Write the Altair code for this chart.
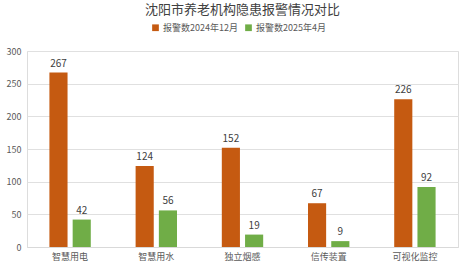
import altair as alt
import pandas as pd

categories = ["智慧用电", "智慧用水", "独立烟感", "信传装置", "可视化监控"]
series_names = ["报警数2024年12月", "报警数2025年4月"]
values_2024 = [267, 124, 152, 67, 226]
values_2025 = [42, 56, 19, 9, 92]
colors = ["#C55A11", "#70AD47"]
y_ticks = [0, 50, 100, 150, 200, 250, 300]

rows = []
for c, a, b in zip(categories, values_2024, values_2025):
    rows.append({"cat": c, "series": series_names[0], "value": a})
    rows.append({"cat": c, "series": series_names[1], "value": b})
df = pd.DataFrame(rows)

FONT = "Noto Sans CJK SC"

x = alt.X("cat:N", sort=categories, title=None,
          scale=alt.Scale(paddingInner=0.52, paddingOuter=0.26),
          axis=alt.Axis(labelAngle=0, labelFontSize=9, labelColor="#595959",
                        labelFont=FONT, ticks=False, domainColor="#D9D9D9",
                        labelPadding=5))
xoff = alt.XOffset("series:N", sort=series_names,
                   scale=alt.Scale(paddingInner=0.22))
y = alt.Y("value:Q", title=None,
          scale=alt.Scale(domain=[0, 300]),
          axis=alt.Axis(values=y_ticks, labelFontSize=9, labelColor="#595959",
                        labelFont=FONT, ticks=False, domain=False,
                        gridColor="#E0E0E0", labelPadding=6))
color = alt.Color("series:N", sort=series_names,
                  scale=alt.Scale(domain=series_names, range=colors),
                  legend=alt.Legend(title=None, orient="none", direction="horizontal",
                                    legendX=124, legendY=-28, symbolType="square",
                                    symbolSize=45, labelFontSize=9, labelFont=FONT,
                                    labelColor="#595959", columnPadding=6,
                                    symbolStrokeWidth=0, labelOffset=3))

base = alt.Chart(df).encode(x=x, xOffset=xoff, y=y)
bars = base.mark_bar().encode(color=color)
labels = base.mark_text(dy=-9, fontSize=10, font=FONT, color="#404040").encode(
    text="value:Q")

chart = (bars + labels).properties(
    width=431, height=196,
    title=alt.TitleParams("沈阳市养老机构隐患报警情况对比", fontSize=13, font=FONT,
                          fontWeight="normal", color="#404040", anchor="middle",
                          offset=6),
    autosize=alt.AutoSizeParams(type="none"),
    padding={"left": 27, "top": 51, "right": 10, "bottom": 17},
).configure_view(stroke=None).configure(background="white")

chart.save("out.html", embed_options={"renderer": "svg", "actions": False})
